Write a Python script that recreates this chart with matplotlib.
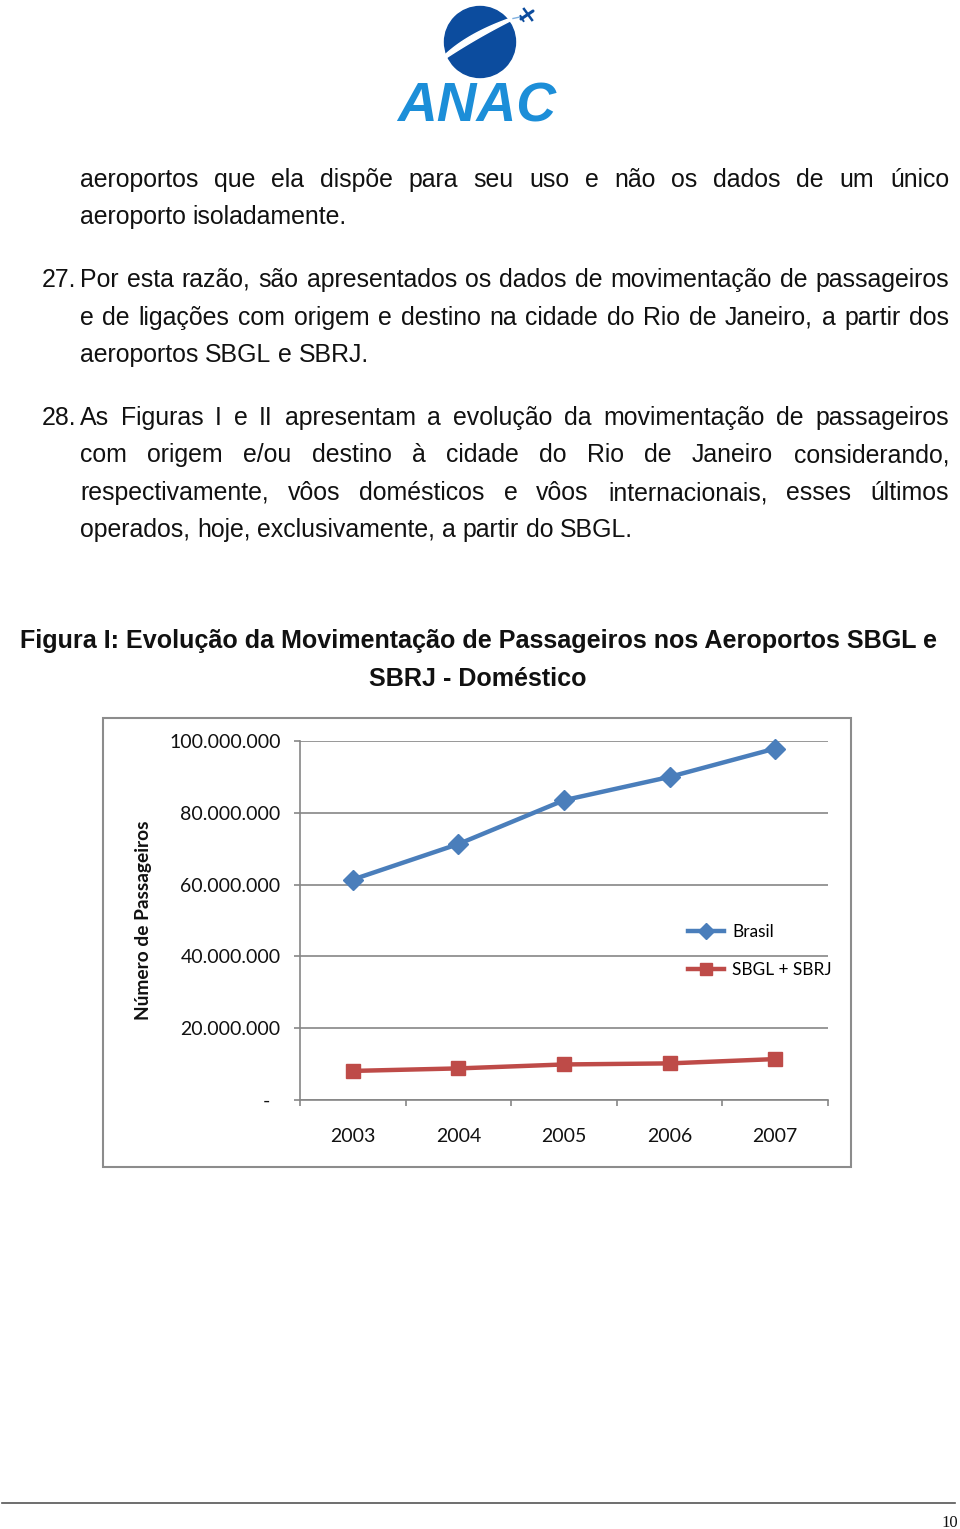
import numpy as np
import matplotlib.pyplot as plt
from matplotlib.patches import Circle, Rectangle, Polygon
from matplotlib.ticker import FuncFormatter

# data
years = ['2003', '2004', '2005', '2006', '2007']
brasil = [61.4e6, 71.3e6, 83.5e6, 90.0e6, 97.9e6]
sbgl_sbrj = [8.1e6, 8.8e6, 9.9e6, 10.2e6, 11.4e6]
y_ticks = [0, 20e6, 40e6, 60e6, 80e6, 100e6]

# body text, line by line as in the page (number, text, justified)
body = [
    (None, 'aeroportos que ela dispõe para seu uso e não os dados de um único', True),
    (None, 'aeroporto isoladamente.', False),
    ('27.', 'Por esta razão, são apresentados os dados de movimentação de passageiros', True),
    (None, 'e de ligações com origem e destino na cidade do Rio de Janeiro, a partir dos', True),
    (None, 'aeroportos SBGL e SBRJ.', False),
    ('28.', 'As Figuras I e II apresentam a evolução da movimentação de passageiros', True),
    (None, 'com origem e/ou destino à cidade do Rio de Janeiro considerando,', True),
    (None, 'respectivamente, vôos domésticos e vôos internacionais, esses últimos', True),
    (None, 'operados, hoje, exclusivamente, a partir do SBGL.', False),
]
baselines = [187, 224, 287, 325, 362, 425, 462, 500, 537]
title_lines = ['Figura I: Evolução da Movimentação de Passageiros nos Aeroportos SBGL e',
               'SBRJ - Doméstico']

fig = plt.figure(figsize=(9.6, 15.29), dpi=100)
r = fig.canvas.get_renderer()

page = fig.add_axes([0, 0, 1, 1])
page.set_xlim(0, 960)
page.set_ylim(1529, 0)
page.axis('off')


def width(t):
    return t.get_window_extent(r).width


def fit(t, w):
    t.set_fontsize(t.get_fontsize() * w / width(t))


# --- logo ---
page.add_patch(Circle((480, 42), 35.5, color='#0c4c9e'))
s = np.linspace(0, 1, 30)[:, None]
def bez(p0, p1, p2):
    p0, p1, p2 = map(np.array, (p0, p1, p2))
    return (1 - s) ** 2 * p0 + 2 * (1 - s) * s * p1 + s ** 2 * p2
upper = bez((446, 54), (470, 32), (514, 17))
lower = bez((446, 58), (478, 37), (514, 19))
page.add_patch(Polygon(np.vstack([upper, lower[::-1]]), color='white'))
page.plot([513, 520], [18.5, 17], color='#7fb0e0', lw=1)
page.plot([521, 533], [19, 11], color='#0c4c9e', lw=2.2, solid_capstyle='round')
page.plot([524, 532], [9, 20], color='#0c4c9e', lw=1.8)
page.plot([520.5, 523.5], [16, 21], color='#0c4c9e', lw=1.4)
logo = page.text(477, 122, 'ANAC', ha='center', va='baseline', fontsize=38,
                 fontweight='bold', style='italic', color='#1c8ed8',
                 family='Liberation Sans')
fit(logo, 159)

# --- body text, justified ---
body_kw = dict(family='Liberation Sans', fontsize=17.9, color='#111111',
               va='baseline')
space = 0.278 * 17.9 * 100 / 72
for (num, line, just), yb in zip(body, baselines):
    if num:
        page.text(42, yb, num, **body_kw)
    words = line.split()
    texts = [page.text(0, yb, w_, **body_kw) for w_ in words]
    ws = [width(t) for t in texts]
    gap = (949 - 80 - sum(ws)) / (len(words) - 1) if just else space
    x = 80
    for t, w_ in zip(texts, ws):
        t.set_x(x)
        x += w_ + gap

# --- figure title ---
t1 = page.text(478, 648, title_lines[0], ha='center', va='baseline',
               family='Liberation Sans', fontweight='bold', fontsize=16,
               color='#111111')
fit(t1, 915)
page.text(478, 686, title_lines[1], ha='center', va='baseline',
          family='Liberation Sans', fontweight='bold',
          fontsize=t1.get_fontsize(), color='#111111')

# --- chart frame ---
page.add_patch(Rectangle((103, 718), 748, 449, fill=False, ec='#8c8c8c', lw=1.5))

# --- chart ---
grey = '#868686'
ax = fig.add_axes([300 / 960, 1 - 1100 / 1529, 528 / 960, 359 / 1529],
                  facecolor='none')
x = np.arange(len(years))
ax.plot(x, brasil, color='#4A7EBB', lw=3.2, marker='D', ms=10, label='Brasil',
        clip_on=False, zorder=3)
ax.plot(x, sbgl_sbrj, color='#BE4B48', lw=3.2, marker='s', ms=10,
        label='SBGL + SBRJ', clip_on=False, zorder=3)

ax.set_xlim(-0.5, len(years) - 0.5)
ax.set_ylim(0, 100e6)
ax.set_yticks(y_ticks)
ax.yaxis.set_major_formatter(FuncFormatter(
    lambda v, p: '-  ' if v == 0 else f'{v:,.0f}'.replace(',', '.')))
ax.yaxis.grid(True, color=grey, lw=1.2)
ax.set_axisbelow(True)
for sp in ['top', 'right']:
    ax.spines[sp].set_visible(False)
for sp in ['left', 'bottom']:
    ax.spines[sp].set_color(grey)
    ax.spines[sp].set_linewidth(1.2)

ax.set_xticks(x)
ax.set_xticklabels(years)
ax.set_xticks(np.arange(-0.5, len(years), 1), minor=True)
ax.tick_params(axis='x', which='major', length=0, pad=20)
ax.tick_params(axis='x', which='minor', length=4, color=grey, width=1.2)
ax.tick_params(axis='y', length=4, color=grey, width=1.2, pad=10)
for lab in ax.get_xticklabels() + ax.get_yticklabels():
    lab.set_family('Lato')
    lab.set_fontsize(14)
    lab.set_color('#111111')

ax.set_ylabel('Número de Passageiros', family='Lato', fontweight='bold',
              fontsize=13.8, color='#111111', va='center')
ax.yaxis.set_label_coords(-0.297, 0.5)

ax.legend(loc='upper left', bbox_to_anchor=(688 / 960, 1 - 924 / 1529),
          bbox_transform=fig.transFigure, frameon=False, borderpad=0,
          borderaxespad=0, handlelength=2.1, handletextpad=0.45,
          labelspacing=1.25, markerscale=0.8,
          prop={'family': 'Lato', 'size': 12.4})

# --- footer ---
page.plot([2, 955], [1503, 1503], color='#555555', lw=1.2)
page.text(958, 1527, '10', ha='right', va='baseline', family='Liberation Serif',
          fontsize=12, color='#111111')

fig.savefig('out.png', dpi=100)
